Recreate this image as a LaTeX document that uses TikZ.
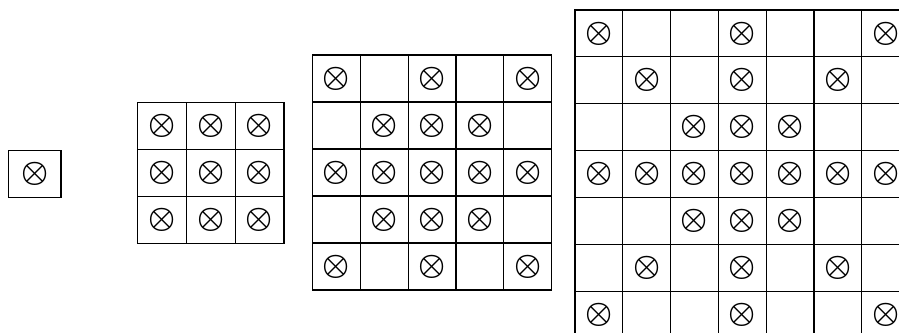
\documentclass[tikz,border=0pt]{standalone}
\usetikzlibrary{positioning}

\begin{document}
\begin{tikzpicture}[x=0.02cm,y=-0.02cm,
  cell/.style={draw,line width=0.6pt,inner sep=0pt,outer sep=0pt},
  tap/.style={font=\LARGE\boldmath,inner sep=0pt}]
  \useasboundingbox (0,0) rectangle (899,333);
  \clip (0,0) rectangle (899,333);
  % kernels: name/size/left/top/cell width/cell height
  \foreach \g/\n/\lx/\ty/\w/\h in {k1/1/8.5/150.5/52.5/47,
      k3/3/137.3/102.3/48.9/47.2, k5/5/312.3/55/47.9/47, k7/7/575/10/47.8/46.9}{
    \pgfmathtruncatemacro\lst{\n-1}
    \pgfmathtruncatemacro\ctr{(\n-1)/2}
    \foreach \r in {0,...,\lst}{
      \foreach \k in {0,...,\lst}{
        % cell
        \node[cell,minimum width={\w*0.02cm},minimum height={\h*0.02cm}]
          (\g-\r-\k) at ({\lx+(\k+0.5)*\w},{\ty+(\r+0.5)*\h}) {};
        % taps on centre row, centre column and diagonals
        \pgfmathtruncatemacro\hit{(\r==\ctr)||(\k==\ctr)||(abs(\r-\ctr)==abs(\k-\ctr))}
        \ifnum\hit=1
          \node[tap] (\g-\r-\k-x) at (\g-\r-\k) {$\otimes$};
        \fi
      }
    }
  }
\end{tikzpicture}
\end{document}
